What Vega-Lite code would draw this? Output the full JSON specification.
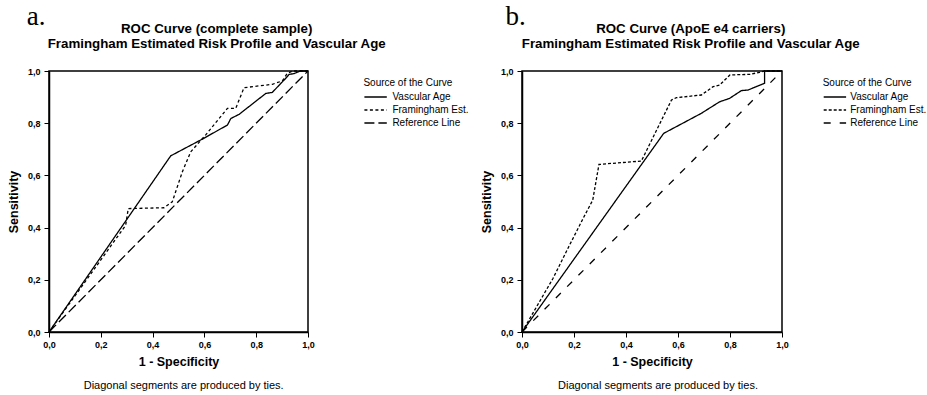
{
  "$schema": "https://vega.github.io/schema/vega-lite/v6.json",
  "padding": {"left": 6, "top": 2, "right": 0, "bottom": 0},
  "background": "white",
  "datasets": {
    "roc": [
      {"panel": "a", "series": "Vascular Age", "i": 0, "fpr": 0, "tpr": 0},
      {"panel": "a", "series": "Vascular Age", "i": 1, "fpr": 0.47, "tpr": 0.675},
      {"panel": "a", "series": "Vascular Age", "i": 2, "fpr": 0.592, "tpr": 0.739},
      {"panel": "a", "series": "Vascular Age", "i": 3, "fpr": 0.689, "tpr": 0.793},
      {"panel": "a", "series": "Vascular Age", "i": 4, "fpr": 0.702, "tpr": 0.818},
      {"panel": "a", "series": "Vascular Age", "i": 5, "fpr": 0.734, "tpr": 0.834},
      {"panel": "a", "series": "Vascular Age", "i": 6, "fpr": 0.837, "tpr": 0.914},
      {"panel": "a", "series": "Vascular Age", "i": 7, "fpr": 0.862, "tpr": 0.918},
      {"panel": "a", "series": "Vascular Age", "i": 8, "fpr": 0.914, "tpr": 0.972},
      {"panel": "a", "series": "Vascular Age", "i": 9, "fpr": 0.927, "tpr": 0.987},
      {"panel": "a", "series": "Vascular Age", "i": 10, "fpr": 0.946, "tpr": 0.99},
      {"panel": "a", "series": "Vascular Age", "i": 11, "fpr": 0.97, "tpr": 1.0},
      {"panel": "a", "series": "Vascular Age", "i": 12, "fpr": 1, "tpr": 1},
      {"panel": "a", "series": "Framingham Est.", "i": 0, "fpr": 0, "tpr": 0},
      {"panel": "a", "series": "Framingham Est.", "i": 1, "fpr": 0.1, "tpr": 0.138},
      {"panel": "a", "series": "Framingham Est.", "i": 2, "fpr": 0.2, "tpr": 0.276},
      {"panel": "a", "series": "Framingham Est.", "i": 3, "fpr": 0.296, "tpr": 0.409},
      {"panel": "a", "series": "Framingham Est.", "i": 4, "fpr": 0.306, "tpr": 0.473},
      {"panel": "a", "series": "Framingham Est.", "i": 5, "fpr": 0.444, "tpr": 0.476},
      {"panel": "a", "series": "Framingham Est.", "i": 6, "fpr": 0.476, "tpr": 0.499},
      {"panel": "a", "series": "Framingham Est.", "i": 7, "fpr": 0.515, "tpr": 0.614},
      {"panel": "a", "series": "Framingham Est.", "i": 8, "fpr": 0.547, "tpr": 0.69},
      {"panel": "a", "series": "Framingham Est.", "i": 9, "fpr": 0.605, "tpr": 0.755},
      {"panel": "a", "series": "Framingham Est.", "i": 10, "fpr": 0.689, "tpr": 0.857},
      {"panel": "a", "series": "Framingham Est.", "i": 11, "fpr": 0.721, "tpr": 0.857},
      {"panel": "a", "series": "Framingham Est.", "i": 12, "fpr": 0.753, "tpr": 0.936},
      {"panel": "a", "series": "Framingham Est.", "i": 13, "fpr": 0.862, "tpr": 0.949},
      {"panel": "a", "series": "Framingham Est.", "i": 14, "fpr": 0.901, "tpr": 0.962},
      {"panel": "a", "series": "Framingham Est.", "i": 15, "fpr": 0.92, "tpr": 0.991},
      {"panel": "a", "series": "Framingham Est.", "i": 16, "fpr": 0.94, "tpr": 1.0},
      {"panel": "a", "series": "Framingham Est.", "i": 17, "fpr": 1, "tpr": 1},
      {"panel": "a", "series": "Reference Line", "i": 0, "fpr": 0, "tpr": 0},
      {"panel": "a", "series": "Reference Line", "i": 1, "fpr": 1, "tpr": 1},
      {"panel": "b", "series": "Vascular Age", "i": 0, "fpr": 0, "tpr": 0},
      {"panel": "b", "series": "Vascular Age", "i": 1, "fpr": 0.545, "tpr": 0.761},
      {"panel": "b", "series": "Vascular Age", "i": 2, "fpr": 0.69, "tpr": 0.838},
      {"panel": "b", "series": "Vascular Age", "i": 3, "fpr": 0.76, "tpr": 0.882},
      {"panel": "b", "series": "Vascular Age", "i": 4, "fpr": 0.798, "tpr": 0.895},
      {"panel": "b", "series": "Vascular Age", "i": 5, "fpr": 0.844, "tpr": 0.925},
      {"panel": "b", "series": "Vascular Age", "i": 6, "fpr": 0.869, "tpr": 0.927},
      {"panel": "b", "series": "Vascular Age", "i": 7, "fpr": 0.933, "tpr": 0.953},
      {"panel": "b", "series": "Vascular Age", "i": 8, "fpr": 0.933, "tpr": 1.0},
      {"panel": "b", "series": "Vascular Age", "i": 9, "fpr": 1, "tpr": 1},
      {"panel": "b", "series": "Framingham Est.", "i": 0, "fpr": 0, "tpr": 0},
      {"panel": "b", "series": "Framingham Est.", "i": 1, "fpr": 0.119, "tpr": 0.205},
      {"panel": "b", "series": "Framingham Est.", "i": 2, "fpr": 0.183, "tpr": 0.333},
      {"panel": "b", "series": "Framingham Est.", "i": 3, "fpr": 0.235, "tpr": 0.435},
      {"panel": "b", "series": "Framingham Est.", "i": 4, "fpr": 0.272, "tpr": 0.505},
      {"panel": "b", "series": "Framingham Est.", "i": 5, "fpr": 0.296, "tpr": 0.642},
      {"panel": "b", "series": "Framingham Est.", "i": 6, "fpr": 0.459, "tpr": 0.655},
      {"panel": "b", "series": "Framingham Est.", "i": 7, "fpr": 0.575, "tpr": 0.889},
      {"panel": "b", "series": "Framingham Est.", "i": 8, "fpr": 0.594, "tpr": 0.898},
      {"panel": "b", "series": "Framingham Est.", "i": 9, "fpr": 0.69, "tpr": 0.908},
      {"panel": "b", "series": "Framingham Est.", "i": 10, "fpr": 0.735, "tpr": 0.94},
      {"panel": "b", "series": "Framingham Est.", "i": 11, "fpr": 0.76, "tpr": 0.946},
      {"panel": "b", "series": "Framingham Est.", "i": 12, "fpr": 0.8, "tpr": 0.985},
      {"panel": "b", "series": "Framingham Est.", "i": 13, "fpr": 0.876, "tpr": 0.987},
      {"panel": "b", "series": "Framingham Est.", "i": 14, "fpr": 0.914, "tpr": 0.995},
      {"panel": "b", "series": "Framingham Est.", "i": 15, "fpr": 0.933, "tpr": 1.0},
      {"panel": "b", "series": "Framingham Est.", "i": 16, "fpr": 1, "tpr": 1},
      {"panel": "b", "series": "Reference Line", "i": 0, "fpr": 0, "tpr": 0},
      {"panel": "b", "series": "Reference Line", "i": 1, "fpr": 1, "tpr": 1}
    ],
    "labels": [
      {"panel": "a", "tag": "a.", "head": "ROC Curve (complete sample)\nFramingham Estimated Risk Profile and Vascular Age", "note": "Diagonal segments are produced by ties."},
      {"panel": "b", "tag": "b.", "head": "ROC Curve (ApoE e4 carriers)\nFramingham Estimated Risk Profile and Vascular Age", "note": "Diagonal segments are produced by ties."}
    ]
  },
  "hconcat": [
    {
      "width": 259,
      "height": 261,
      "layer": [
        {
          "data": {"name": "roc"},
          "transform": [{"filter": "datum.panel === 'a'"}],
          "mark": {"type": "line", "color": "black", "strokeWidth": 1.3},
          "encoding": {
            "x": {"field": "fpr", "type": "quantitative", "scale": {"domain": [0, 1], "nice": false},
              "axis": {"title": "1 - Specificity", "values": [0, 0.2, 0.4, 0.6, 0.8, 1], "labelExpr": "replace(format(datum.value, '.1f'), '.', ',')"}},
            "y": {"field": "tpr", "type": "quantitative", "scale": {"domain": [0, 1], "nice": false},
              "axis": {"title": "Sensitivity", "values": [0, 0.2, 0.4, 0.6, 0.8, 1], "labelExpr": "replace(format(datum.value, '.1f'), '.', ',')"}},
            "order": {"field": "i", "type": "quantitative"},
            "strokeDash": {"field": "series", "type": "nominal",
              "scale": {"domain": ["Vascular Age", "Framingham Est.", "Reference Line"], "range": [[1, 0], [3, 2.5], [10, 4]]},
              "legend": {"title": "Source of the Curve", "orient": "none", "legendX": 314.4, "legendY": 7, "labelOffset": 13}}
          }
        },
        {
          "data": {"name": "labels"},
          "transform": [{"filter": "datum.panel === 'a'"}],
          "mark": {"type": "text", "font": "Liberation Serif", "fontSize": 27, "align": "left", "baseline": "alphabetic", "color": "black"},
          "encoding": {"x": {"datum": -0.086}, "y": {"datum": 1.176}, "text": {"field": "tag"}}
        },
        {
          "data": {"name": "labels"},
          "transform": [{"filter": "datum.panel === 'a'"}],
          "mark": {"type": "text", "font": "Liberation Sans", "fontSize": 13.3, "fontWeight": "bold", "lineBreak": "\n", "lineHeight": 15, "align": "center", "baseline": "alphabetic", "color": "black"},
          "encoding": {"x": {"datum": 0.6475}, "y": {"datum": 1.1465}, "text": {"field": "head"}}
        },
        {
          "data": {"name": "labels"},
          "transform": [{"filter": "datum.panel === 'a'"}],
          "mark": {"type": "text", "font": "Liberation Sans", "fontSize": 11, "align": "center", "baseline": "middle", "color": "black"},
          "encoding": {"x": {"datum": 0.52}, "y": {"datum": -0.208}, "text": {"field": "note"}}
        }
      ]
    },
    {
      "width": 260,
      "height": 261,
      "layer": [
        {
          "data": {"name": "roc"},
          "transform": [{"filter": "datum.panel === 'b'"}],
          "mark": {"type": "line", "color": "black", "strokeWidth": 1.3},
          "encoding": {
            "x": {"field": "fpr", "type": "quantitative", "scale": {"domain": [0, 1], "nice": false},
              "axis": {"title": "1 - Specificity", "values": [0, 0.2, 0.4, 0.6, 0.8, 1], "labelExpr": "replace(format(datum.value, '.1f'), '.', ',')"}},
            "y": {"field": "tpr", "type": "quantitative", "scale": {"domain": [0, 1], "nice": false},
              "axis": {"title": "Sensitivity", "values": [0, 0.2, 0.4, 0.6, 0.8, 1], "labelExpr": "replace(format(datum.value, '.1f'), '.', ',')"}},
            "order": {"field": "i", "type": "quantitative"},
            "strokeDash": {"field": "series", "type": "nominal",
              "scale": {"domain": ["Vascular Age", "Framingham Est.", "Reference Line"], "range": [[1, 0], [3, 2], [7, 9]]},
              "legend": {"title": "Source of the Curve", "orient": "none", "legendX": 300.7, "legendY": 7, "labelOffset": 11.5}}
          }
        },
        {
          "data": {"name": "labels"},
          "transform": [{"filter": "datum.panel === 'b'"}],
          "mark": {"type": "text", "font": "Liberation Serif", "fontSize": 27, "align": "left", "baseline": "alphabetic", "color": "black"},
          "encoding": {"x": {"datum": -0.063}, "y": {"datum": 1.176}, "text": {"field": "tag"}}
        },
        {
          "data": {"name": "labels"},
          "transform": [{"filter": "datum.panel === 'b'"}],
          "mark": {"type": "text", "font": "Liberation Sans", "fontSize": 13.3, "fontWeight": "bold", "lineBreak": "\n", "lineHeight": 15, "align": "center", "baseline": "alphabetic", "color": "black"},
          "encoding": {"x": {"datum": 0.649}, "y": {"datum": 1.1465}, "text": {"field": "head"}}
        },
        {
          "data": {"name": "labels"},
          "transform": [{"filter": "datum.panel === 'b'"}],
          "mark": {"type": "text", "font": "Liberation Sans", "fontSize": 11, "align": "center", "baseline": "middle", "color": "black"},
          "encoding": {"x": {"datum": 0.523}, "y": {"datum": -0.208}, "text": {"field": "note"}}
        }
      ]
    }
  ],
  "resolve": {"scale": {"strokeDash": "independent", "x": "independent", "y": "independent"}, "legend": {"strokeDash": "independent"}},
  "spacing": 8,
  "config": {
    "font": "Liberation Sans",
    "view": {"stroke": "black", "strokeWidth": 1.5},
    "axis": {
      "grid": false, "domainColor": "black", "domainWidth": 1.5, "tickColor": "black", "tickWidth": 1, "tickSize": 5,
      "labelColor": "black", "labelFont": "Liberation Sans", "labelFontSize": 9, "labelFontWeight": "bold", "labelFlush": false,
      "titleColor": "black", "titleFont": "Liberation Sans", "titleFontWeight": "bold", "titleFontSize": 12.5
    },
    "axisX": {"labelPadding": 3, "titlePadding": 6},
    "axisY": {"labelPadding": 4, "titlePadding": 7},
    "legend": {
      "padding": 0, "titleFont": "Liberation Sans", "titleFontSize": 10, "titleFontWeight": "normal", "titleColor": "black", "titlePadding": 1,
      "labelFont": "Liberation Sans", "labelFontSize": 10, "labelColor": "black",
      "symbolType": "M-1,0H2.2", "symbolSize": 196, "symbolStrokeColor": "black", "symbolStrokeWidth": 1.5, "rowPadding": 0
    }
  }
}
